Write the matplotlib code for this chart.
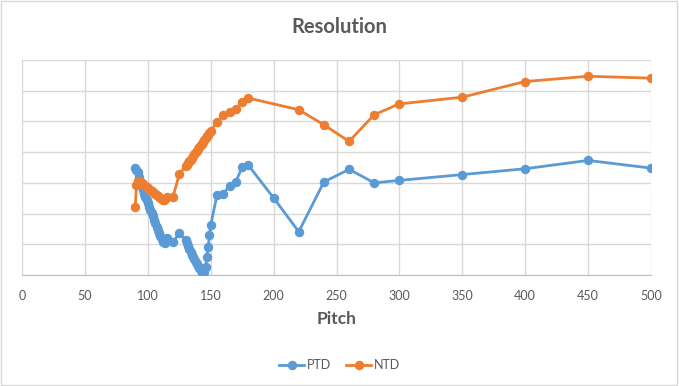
import numpy as np
import matplotlib.pyplot as plt
from matplotlib.patches import Rectangle

plt.rcParams['font.family'] = ['Lato', 'DejaVu Sans']

# PTD series
ptd_pitch = [90, 91, 92, 93, 94, 95, 96, 97, 98, 99, 100, 101, 102, 103, 104, 105,
             106, 107, 108, 109, 110, 111, 112, 113, 114, 115, 120, 125,
             130, 131, 132, 133, 134, 135, 136, 137, 138, 139, 140, 141, 142, 143,
             144, 145, 146, 147, 148, 149, 150,
             155, 160, 165, 170, 175, 180, 200, 220, 240, 260, 280, 300, 350, 400, 450, 500]
ptd_res = [3.47, 3.41, 3.34, 3.18, 3.05, 2.89, 2.76, 2.63, 2.53, 2.44, 2.34, 2.21, 2.11,
           2.01, 1.92, 1.79, 1.69, 1.56, 1.46, 1.36, 1.27, 1.17, 1.07, 1.10, 1.04, 1.20,
           1.07, 1.36,
           1.14, 1.04, 0.94, 0.84, 0.75, 0.65, 0.58, 0.52, 0.42, 0.36, 0.29, 0.23, 0.16,
           0.06, 0.00, 0.10, 0.27, 0.59, 0.92, 1.30, 1.62,
           2.60, 2.65, 2.90, 3.03, 3.52, 3.57, 2.51, 1.41, 3.03, 3.44, 3.00, 3.08, 3.27,
           3.46, 3.73, 3.48]

# NTD series
ntd_pitch = [90, 91, 92, 93, 94, 95, 96, 97, 98, 99, 100, 101, 102, 103, 104, 105,
             106, 107, 108, 109, 110, 111, 112, 113, 114, 115, 120, 125,
             130, 131, 132, 133, 134, 135, 136, 137, 138, 139, 140, 141, 142, 143,
             144, 145, 146, 147, 148, 149, 150,
             155, 160, 165, 170, 175, 180, 220, 240, 260, 280, 300, 350, 400, 450, 500]
ntd_res = [2.20, 2.92, 3.05, 3.05, 3.02, 2.99, 2.95, 2.92, 2.89, 2.86, 2.82, 2.79, 2.76,
           2.73, 2.69, 2.66, 2.63, 2.60, 2.56, 2.53, 2.50, 2.47, 2.44, 2.44, 2.47, 2.53,
           2.54, 3.28,
           3.54, 3.59, 3.65, 3.71, 3.76, 3.82, 3.88, 3.94, 4.00, 4.05, 4.11, 4.17, 4.22,
           4.28, 4.34, 4.40, 4.45, 4.51, 4.57, 4.62, 4.68,
           4.98, 5.22, 5.30, 5.41, 5.63, 5.76, 5.38, 4.89, 4.35, 5.22, 5.57, 5.79, 6.30,
           6.47, 6.41]

x_ticks = [0, 50, 100, 150, 200, 250, 300, 350, 400, 450, 500]

blue = '#5B9BD5'
orange = '#ED7D31'
text_col = '#595959'

fig = plt.figure(figsize=(6.79, 3.86), dpi=100)
ax = fig.add_axes([22 / 679, 1 - 275 / 386, 629 / 679, 215 / 386])

ax.plot(ptd_pitch, ptd_res, color=blue, lw=2, marker='o', ms=5.8, label='PTD', zorder=3)
ax.plot(ntd_pitch, ntd_res, color=orange, lw=2, marker='o', ms=5.8, label='NTD', zorder=3)

ax.set_xlim(0, 500)
ax.set_ylim(0, 7)
ax.set_xticks(x_ticks)
ax.set_yticks(range(8))
ax.set_yticklabels([])
ax.grid(True, color='#d9d9d9', lw=1)
ax.set_axisbelow(True)
ax.tick_params(axis='both', length=0, colors=text_col, labelsize=9)
ax.tick_params(axis='x', pad=11)
for s in ['top', 'right', 'left']:
    ax.spines[s].set_visible(False)
ax.spines['bottom'].set_color('#bfbfbf')

ax.set_xlabel('Pitch', fontsize=12.5, fontweight='bold', color=text_col, labelpad=6)
fig.text(0.5, 1 - 27 / 386, 'Resolution', ha='center', va='center',
         fontsize=14.5, fontweight='bold', color=text_col)

leg = fig.legend(loc='center', bbox_to_anchor=(0.5, 1 - 365 / 386), ncol=2,
                 frameon=False, fontsize=9, handlelength=2.0, handletextpad=0.2,
                 columnspacing=1.2)
for t in leg.get_texts():
    t.set_color(text_col)

fig.patches.append(Rectangle((0.002, 0.003), 0.995, 0.994, transform=fig.transFigure,
                             fill=False, edgecolor='#d9d9d9', lw=1))

fig.savefig('out.png', dpi=100)
